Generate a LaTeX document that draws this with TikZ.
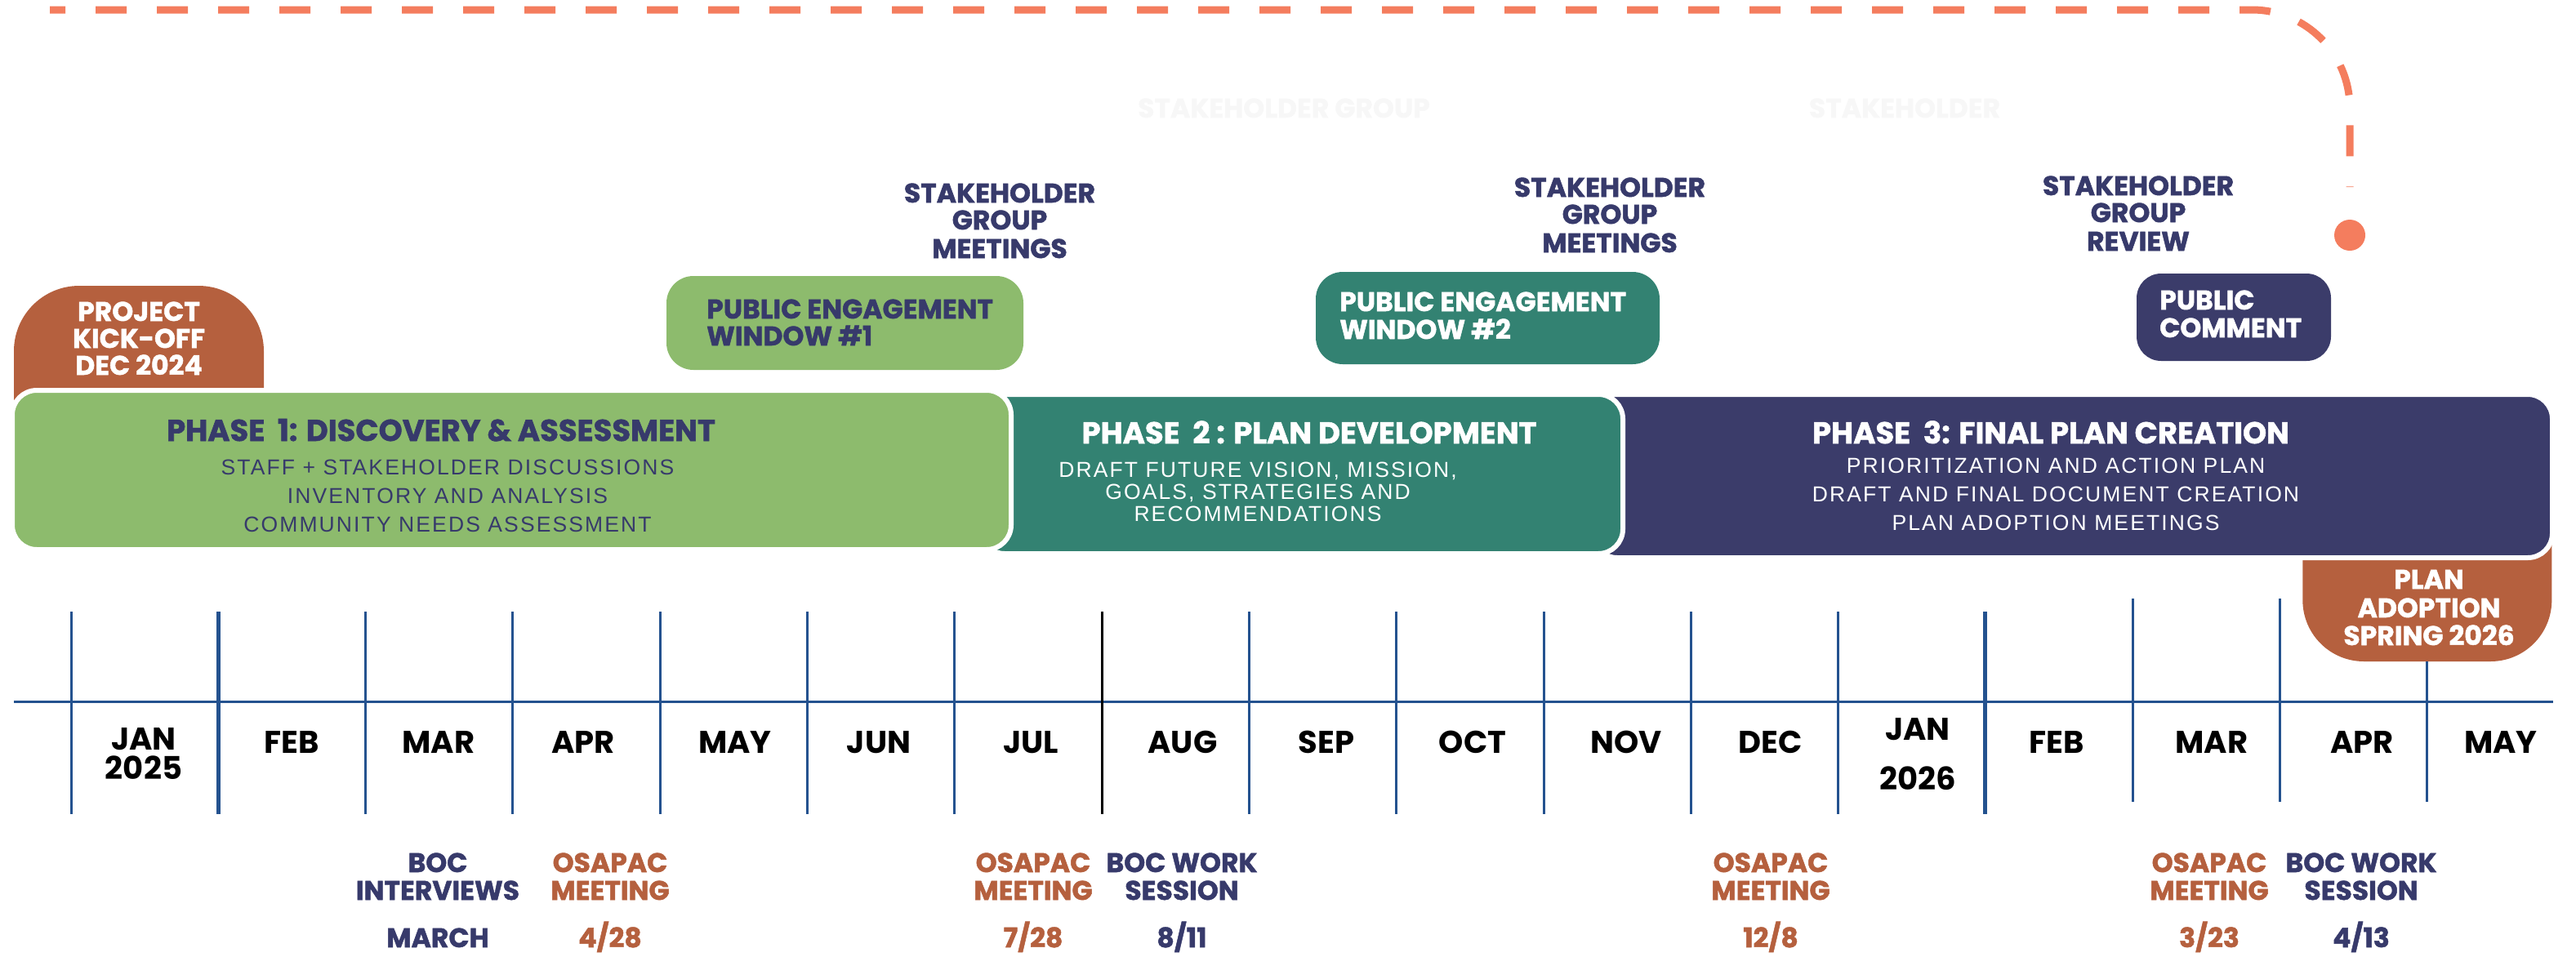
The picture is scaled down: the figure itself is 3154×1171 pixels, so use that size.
\documentclass[tikz,border=0pt]{standalone}
\usepackage{fontspec}
\newfontfamily\dispfont{Poppins}[BoldFeatures={FakeBold=1.5}]
\newfontfamily\monthfont{Poppins}
\newfontfamily\bodyfont{Liberation Sans}[LetterSpace=8]
\definecolor{rustc}{HTML}{B5603E}
\definecolor{greenc}{HTML}{8DBB6D}
\definecolor{tealc}{HTML}{338272}
\definecolor{navyc}{HTML}{3B3C6A}
\definecolor{coralc}{HTML}{F47D5E}
\definecolor{axisc}{HTML}{24528F}
\definecolor{txtnavy}{HTML}{373A6B}
\begin{document}
\begin{tikzpicture}[x=1pt,y=-1pt,
  tx/.style={inner sep=0pt, anchor=base},
  dsp/.style={tx, font=\dispfont\bfseries\fontsize{33}{36}\selectfont},
  ttl/.style={tx, font=\dispfont\bfseries\fontsize{37}{40}\selectfont},
  bdy/.style={tx, font=\bodyfont\fontsize{26.5}{30}\selectfont},
  mon/.style={tx, font=\monthfont\bfseries\fontsize{38.5}{42}\selectfont, text=black},
  shape box/.style={rectangle, inner sep=0pt},
  phasebox/.style={rectangle, inner sep=0pt, rounded corners=30, draw=white, line width=6},
  dashline/.style={draw=coralc, line width=9, dash pattern=on 38pt off 37pt, dash phase=19pt},
  tk/.style={draw=axisc, line width=3},
]
\useasboundingbox (0,0) rectangle (3154,1171);

% dashed path and dot
\coordinate (dstart) at (61,12);
\coordinate (dend) at (2877,229);
\node[circle, fill=coralc, minimum size=38, inner sep=0pt] (dot) at (2877,288) {};
\draw[dashline, rounded corners=120] (dstart) -- (dstart -| dend) -- (dend);

% faint texts
\node[dsp, text=black!3] (faint1) at (1572,144) {STAKEHOLDER GROUP};
\node[dsp, text=black!3] (faint2) at (2332,144) {STAKEHOLDER};

% stakeholder labels
\node[dsp, text=txtnavy] (sh1a) at (1224,248) {STAKEHOLDER};
\node[dsp, text=txtnavy] (sh1b) at (1224,281) {GROUP};
\node[dsp, text=txtnavy] (sh1c) at (1224,316) {MEETINGS};
\node[dsp, text=txtnavy] (sh2a) at (1971,241) {STAKEHOLDER};
\node[dsp, text=txtnavy] (sh2b) at (1971,274) {GROUP};
\node[dsp, text=txtnavy] (sh2c) at (1971,309) {MEETINGS};
\node[dsp, text=txtnavy] (sh3a) at (2618,239) {STAKEHOLDER};
\node[dsp, text=txtnavy] (sh3b) at (2618,272) {GROUP};
\node[dsp, text=txtnavy] (sh3c) at (2618,307) {REVIEW};

% small boxes
\node[shape box, rounded corners=33, fill=greenc, minimum width=437, minimum height=115] (pe1) at (1034.5,395.5) {};
\node[shape box, rounded corners=33, fill=tealc, minimum width=421, minimum height=113] (pe2) at (1821.5,389.5) {};
\node[shape box, rounded corners=30, fill=navyc, minimum width=238, minimum height=107] (pc) at (2735,388.5) {};
\node[dsp, anchor=base west, text=txtnavy] (pe1a) at (865,390) {PUBLIC ENGAGEMENT};
\node[dsp, anchor=base west, text=txtnavy] (pe1b) at (865,423) {WINDOW \#1};
\node[dsp, anchor=base west, text=white] (pe2a) at (1640,381) {PUBLIC ENGAGEMENT};
\node[dsp, anchor=base west, text=white] (pe2b) at (1640,415) {WINDOW \#2};
\node[dsp, anchor=base west, text=white] (pca) at (2644,379) {PUBLIC};
\node[dsp, anchor=base west, text=white] (pcb) at (2644,413) {COMMENT};

% kick-off and plan adoption tabs
\node[shape box, rounded corners=80, fill=rustc, minimum width=306, minimum height=230] (kick) at (170,465) {};
\node[shape box, rounded corners=75, fill=rustc, minimum width=305, minimum height=270] (plan) at (2971.8,675) {};

% phase boxes
\node[phasebox, fill=navyc, minimum width=1175, minimum height=200] (p3) at (2537.5,583) {};
\node[phasebox, fill=tealc, minimum width=787, minimum height=195] (p2) at (1593.5,580.5) {};
\node[phasebox, fill=greenc, minimum width=1223, minimum height=195] (p1) at (626.5,575.5) {};

% kick-off text
\node[dsp, text=white] (k1) at (170,393) {PROJECT};
\node[dsp, text=white] (k2) at (170,426) {KICK-OFF};
\node[dsp, text=white] (k3) at (170,459) {DEC 2024};

% plan adoption text
\node[dsp, text=white] (pa1) at (2974,721) {PLAN};
\node[dsp, text=white] (pa2) at (2974,756) {ADOPTION};
\node[dsp, text=white] (pa3) at (2974,790) {SPRING 2026};

% phase texts
\node[ttl, text=txtnavy] (t1) at (540,540) {PHASE\ \ 1: DISCOVERY \& ASSESSMENT};
\node[bdy, text=txtnavy] (b1a) at (548,581) {STAFF + STAKEHOLDER DISCUSSIONS};
\node[bdy, text=txtnavy] (b1b) at (548,616) {INVENTORY AND ANALYSIS};
\node[bdy, text=txtnavy] (b1c) at (548,651) {COMMUNITY NEEDS ASSESSMENT};

\node[ttl, text=white] (t2) at (1603,543) {PHASE\ \ 2 : PLAN DEVELOPMENT};
\node[bdy, text=white] (b2a) at (1540,584) {DRAFT FUTURE VISION, MISSION,};
\node[bdy, text=white] (b2b) at (1540,611) {GOALS, STRATEGIES AND};
\node[bdy, text=white] (b2c) at (1540,638) {RECOMMENDATIONS};

\node[ttl, text=white] (t3) at (2511,543) {PHASE\ \ 3: FINAL PLAN CREATION};
\node[bdy, text=white] (b3a) at (2517,579) {PRIORITIZATION AND ACTION PLAN};
\node[bdy, text=white] (b3b) at (2517,614) {DRAFT AND FINAL DOCUMENT CREATION};
\node[bdy, text=white] (b3c) at (2517,649) {PLAN ADOPTION MEETINGS};

% timeline axis and ticks
\coordinate (axL) at (17,859);
\coordinate (axR) at (3126,859);
\draw[tk] (axL) -- (axR);
\foreach \k in {0,2,3,4,5,6,8,9,10,11,12}{
  \draw[tk] ({87+180.3*\k},749) -- ({87+180.3*\k},997);
}
\draw[tk, line width=5] (267.3,749) -- (267.3,997);
\draw[tk, draw=black] (1349.1,749) -- (1349.1,997);
\draw[tk, line width=5] (2430.9,749) -- (2430.9,997);
\draw[tk] (2611.2,733) -- (2611.2,982);
\draw[tk] (2791.5,733) -- (2791.5,982);
\draw[tk] (plan.south) -- (2971.8,982);

% months
\node[mon] (m0a) at (176,918) {JAN};
\node[mon] (m0b) at (176,954) {2025};
\node[mon] (m1) at (357,922) {FEB};
\node[mon] (m2) at (537,922) {MAR};
\node[mon] (m3) at (714,922) {APR};
\node[mon] (m4) at (900,922) {MAY};
\node[mon] (m5) at (1076,922) {JUN};
\node[mon] (m6) at (1262,922) {JUL};
\node[mon] (m7) at (1448,922) {AUG};
\node[mon] (m8) at (1624,922) {SEP};
\node[mon] (m9) at (1803,922) {OCT};
\node[mon] (m10) at (1991,922) {NOV};
\node[mon] (m11) at (2168,922) {DEC};
\node[mon] (m12a) at (2348,906) {JAN};
\node[mon] (m12b) at (2348,967) {2026};
\node[mon] (m13) at (2518,922) {FEB};
\node[mon] (m14) at (2708,922) {MAR};
\node[mon] (m15) at (2892,922) {APR};
\node[mon] (m16) at (3062,922) {MAY};

% bottom events
\node[dsp, text=txtnavy] (e1a) at (536,1068) {BOC};
\node[dsp, text=txtnavy] (e1b) at (536,1102) {INTERVIEWS};
\node[dsp, text=txtnavy] (e1c) at (536,1160) {MARCH};
\node[dsp, text=rustc] (e2a) at (747,1068) {OSAPAC};
\node[dsp, text=rustc] (e2b) at (747,1102) {MEETING};
\node[dsp, text=rustc] (e2c) at (747,1160) {4/28};
\node[dsp, text=rustc] (e3a) at (1265,1068) {OSAPAC};
\node[dsp, text=rustc] (e3b) at (1265,1102) {MEETING};
\node[dsp, text=rustc] (e3c) at (1265,1160) {7/28};
\node[dsp, text=txtnavy] (e4a) at (1447,1068) {BOC WORK};
\node[dsp, text=txtnavy] (e4b) at (1447,1102) {SESSION};
\node[dsp, text=txtnavy] (e4c) at (1447,1160) {8/11};
\node[dsp, text=rustc] (e5a) at (2168,1068) {OSAPAC};
\node[dsp, text=rustc] (e5b) at (2168,1102) {MEETING};
\node[dsp, text=rustc] (e5c) at (2168,1160) {12/8};
\node[dsp, text=rustc] (e6a) at (2705,1068) {OSAPAC};
\node[dsp, text=rustc] (e6b) at (2705,1102) {MEETING};
\node[dsp, text=rustc] (e6c) at (2705,1160) {3/23};
\node[dsp, text=txtnavy] (e7a) at (2891,1068) {BOC WORK};
\node[dsp, text=txtnavy] (e7b) at (2891,1102) {SESSION};
\node[dsp, text=txtnavy] (e7c) at (2891,1160) {4/13};
\end{tikzpicture}
\end{document}
